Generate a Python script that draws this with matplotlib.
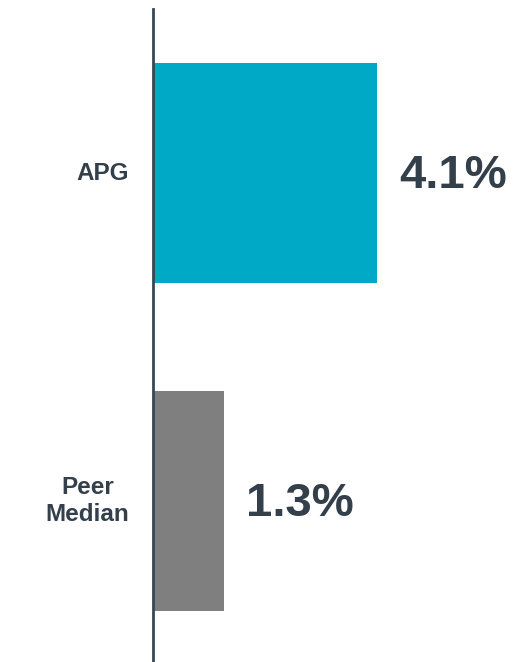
import matplotlib.pyplot as plt

# data
categories = ["APG", "Peer\nMedian"]
values = [4.1, 1.3]
labels = ["4.1%", "1.3%"]
colors = ["#00A9C5", "#7F7F7F"]

text_color = "#333F4B"

fig = plt.figure(figsize=(5.3, 6.62), dpi=100)
ax = fig.add_axes([153 / 530, 0.0, 377 / 530, 653 / 662])

pos = list(range(len(categories)))
ax.barh(pos, values, height=0.67, color=colors, zorder=2)

ax.set_xlim(0, 377 / 54.6)
ax.set_ylim(1.49, -0.5)

for p, v, lab in zip(pos, values, labels):
    ax.annotate(lab, xy=(v, p), xytext=(16, -2), textcoords="offset points",
                ha="left", va="center", fontsize=34, fontweight="bold",
                color=text_color, family="Liberation Sans")

for p, c in zip(pos, categories):
    ax.annotate(c, xy=(0, p), xytext=(-17, 0), textcoords="offset points",
                ha="right", va="center", multialignment="center",
                fontsize=17.5, fontweight="bold", color=text_color,
                family="Liberation Sans", linespacing=1.2)

for s in ["top", "right", "bottom"]:
    ax.spines[s].set_visible(False)
ax.spines["left"].set_color("#3A4650")
ax.spines["left"].set_linewidth(2)
ax.set_xticks([])
ax.set_yticks([])

fig.savefig("out.png", dpi=100)
